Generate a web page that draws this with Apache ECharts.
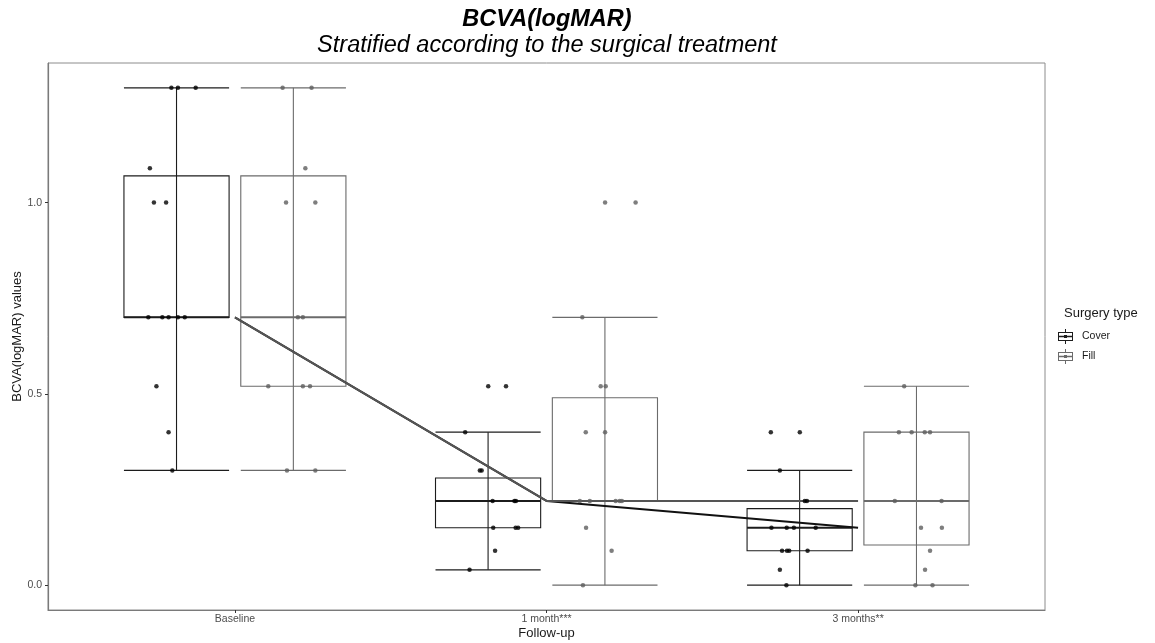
<!DOCTYPE html>
<html><head><meta charset="utf-8">
<script src="https://cdn.jsdelivr.net/npm/echarts@6/dist/echarts.min.js"></script>
<style>html,body{margin:0;padding:0;background:#fff}#c{width:1155px;height:643px}</style>
</head><body><div id="c"></div>
<script>
const categories = ['Baseline', '1 month***', '3 months**'];
const groupNames = ['Cover', 'Fill'];
// box statistics per category: [lower whisker, Q1, median, Q3, upper whisker]
const coverBox = [[0.30, 0.70, 0.70, 1.07, 1.30], [0.04, 0.15, 0.22, 0.28, 0.40], [0.00, 0.09, 0.15, 0.20, 0.30]];
const fillBox  = [[0.30, 0.52, 0.70, 1.07, 1.30], [0.00, 0.22, 0.22, 0.49, 0.70], [0.00, 0.105, 0.22, 0.40, 0.52]];
// jittered observations: [x position on follow-up scale, BCVA]
const coverPoints = [
  [0.796,1.30],[0.817,1.30],[0.874,1.30],[0.727,1.09],[0.740,1.00],[0.779,1.00],
  [0.722,0.70],[0.767,0.70],[0.787,0.70],[0.817,0.70],[0.839,0.70],[0.748,0.52],[0.787,0.40],[0.799,0.30],
  [1.813,0.52],[1.870,0.52],[1.739,0.40],[1.786,0.30],[1.792,0.30],[1.827,0.22],[1.897,0.22],[1.902,0.22],
  [1.829,0.15],[1.901,0.15],[1.909,0.15],[1.835,0.09],[1.753,0.04],
  [2.720,0.40],[2.813,0.40],[2.749,0.30],[2.829,0.22],[2.836,0.22],[2.722,0.15],[2.771,0.15],[2.794,0.15],[2.864,0.15],
  [2.756,0.09],[2.772,0.09],[2.779,0.09],[2.838,0.09],[2.749,0.04],[2.770,0.00]
];
const fillPoints = [
  [1.153,1.30],[1.246,1.30],[1.226,1.09],[1.164,1.00],[1.258,1.00],[1.202,0.70],[1.218,0.70],
  [1.107,0.52],[1.218,0.52],[1.241,0.52],[1.167,0.30],[1.258,0.30],
  [2.188,1.00],[2.286,1.00],[2.115,0.70],[2.174,0.52],[2.190,0.52],[2.126,0.40],[2.188,0.40],
  [2.107,0.22],[2.139,0.22],[2.222,0.22],[2.235,0.22],[2.242,0.22],[2.127,0.15],[2.209,0.09],[2.117,0.00],
  [3.148,0.52],[3.131,0.40],[3.172,0.40],[3.214,0.40],[3.231,0.40],[3.118,0.22],[3.268,0.22],
  [3.202,0.15],[3.269,0.15],[3.231,0.09],[3.215,0.04],[3.184,0.00],[3.239,0.00]
];
const xTicks = [1, 2, 3];
const yTicks = [0, 0.5, 1.0];

const FONT = "'Liberation Sans', Arial, sans-serif";
const COVER_COL = '#1c1c1c', FILL_COL = '#6b6b6b';
const DODGE = 0.1875, BOXW = 0.3375;

function boxSeries(name, stats, offset, color) {
  return {
    type: 'custom', name: name, silent: true, z: 2,
    itemStyle: { color: color },
    encode: { x: 0, y: [1, 2, 3, 4, 5] },
    data: stats.map((s, i) => [xTicks[i] + offset].concat(s)),
    renderItem: function (params, api) {
      const x = api.value(0);
      const w = api.size([BOXW, 0])[0];
      const pMin = api.coord([x, api.value(1)]);
      const pQ1 = api.coord([x, api.value(2)]);
      const pMed = api.coord([x, api.value(3)]);
      const pQ3 = api.coord([x, api.value(4)]);
      const pMax = api.coord([x, api.value(5)]);
      const cx = pMin[0], l = cx - w / 2, r = cx + w / 2;
      const ls = { stroke: color, lineWidth: 1.1, fill: null };
      return { type: 'group', children: [
        { type: 'line', shape: { x1: cx, y1: pMax[1], x2: cx, y2: pMin[1] }, style: ls },
        { type: 'line', shape: { x1: l, y1: pMax[1], x2: r, y2: pMax[1] }, style: ls },
        { type: 'line', shape: { x1: l, y1: pMin[1], x2: r, y2: pMin[1] }, style: ls },
        { type: 'rect', shape: { x: l, y: pQ3[1], width: w, height: pQ1[1] - pQ3[1] }, style: { stroke: color, lineWidth: 1.1, fill: 'none' } },
        { type: 'line', shape: { x1: l, y1: pMed[1], x2: r, y2: pMed[1] }, style: { stroke: color, lineWidth: 2 } }
      ]};
    }
  };
}

const ICON = 'path://M7 0H8V3H7ZM7 12H8V15H7ZM0 3H15V12H0ZM1 4V11H14V4ZM0 6.7H15V8.3H0ZM6 6H9V9H6Z';

const chart = echarts.init(document.getElementById('c'), null, { renderer: 'canvas' });
chart.setOption({
  animation: false,
  backgroundColor: '#ffffff',
  textStyle: { fontFamily: FONT },
  grid: { left: 48, right: 110, top: 63, bottom: 33, show: true, borderColor: '#8c8c8c', borderWidth: 1,
          containLabel: false, outerBoundsMode: 'none' },
  graphic: [
    { type: 'text', x: 547, y: 20, style: { text: 'BCVA(logMAR)', fontFamily: FONT, fontSize: 23.5, fontWeight: 'bold', fontStyle: 'italic', fill: '#000', textAlign: 'center', textVerticalAlign: 'middle' } },
    { type: 'text', x: 547, y: 45, style: { text: 'Stratified according to the surgical treatment', fontFamily: FONT, fontSize: 23.5, fontStyle: 'italic', fill: '#000', textAlign: 'center', textVerticalAlign: 'middle' } },
    { type: 'text', x: 1064, y: 313, style: { text: 'Surgery type', fontFamily: FONT, fontSize: 13, fill: '#1a1a1a', textAlign: 'left', textVerticalAlign: 'middle' } }
  ],
  legend: {
    orient: 'vertical', left: 1058, top: 329, itemWidth: 15, itemHeight: 15, itemGap: 5, padding: 0,
    selectedMode: false,
    textStyle: { fontFamily: FONT, fontSize: 10.5, color: '#1a1a1a', padding: [0, 0, 0, 4] },
    data: [
      { name: 'Cover', icon: ICON, itemStyle: { color: COVER_COL, borderWidth: 0 } },
      { name: 'Fill', icon: ICON, itemStyle: { color: FILL_COL, borderWidth: 0 } }
    ]
  },
  xAxis: {
    type: 'value', min: 0.4, max: 3.6, splitLine: { show: false },
    axisLine: { show: true, onZero: false, lineStyle: { color: '#7a7a7a', width: 1.2 } },
    axisTick: { show: true, customValues: xTicks, length: 3, lineStyle: { color: '#333' } },
    axisLabel: { customValues: xTicks, formatter: v => categories[Math.round(v) - 1], fontFamily: FONT, fontSize: 10.5, color: '#4d4d4d', margin: 4 },
    name: 'Follow-up', nameLocation: 'middle', nameGap: 17, nameMoveOverlap: false,
    nameTextStyle: { fontFamily: FONT, fontSize: 13, color: '#1a1a1a' }
  },
  yAxis: {
    type: 'value', min: -0.065, max: 1.365, splitLine: { show: false },
    axisLine: { show: true, onZero: false, lineStyle: { color: '#7a7a7a', width: 1.2 } },
    axisTick: { show: true, customValues: yTicks, length: 3, lineStyle: { color: '#333' } },
    axisLabel: { customValues: yTicks, formatter: v => v.toFixed(1), fontFamily: FONT, fontSize: 10.5, color: '#4d4d4d', margin: 6 },
    name: 'BCVA(logMAR) values', nameLocation: 'middle', nameGap: 24, nameMoveOverlap: false,
    nameTextStyle: { fontFamily: FONT, fontSize: 13, color: '#1a1a1a' }
  },
  series: [
    boxSeries('Cover', coverBox, -DODGE, COVER_COL),
    boxSeries('Fill', fillBox, DODGE, FILL_COL),
    { type: 'line', name: 'Cover median trend', silent: true, z: 3, symbol: 'none',
      data: coverBox.map((s, i) => [xTicks[i], s[2]]), lineStyle: { color: '#111', width: 2 } },
    { type: 'line', name: 'Fill median trend', silent: true, z: 3, symbol: 'none',
      data: fillBox.map((s, i) => [xTicks[i], s[2]]), lineStyle: { color: '#555', width: 2 } },
    { type: 'scatter', name: 'Cover points', silent: true, z: 4, symbol: 'circle', symbolSize: 4.5,
      data: coverPoints, itemStyle: { color: '#000' } },
    { type: 'scatter', name: 'Fill points', silent: true, z: 4, symbol: 'circle', symbolSize: 4.5,
      data: fillPoints, itemStyle: { color: '#5e5e5e' } }
  ]
});
</script></body></html>
